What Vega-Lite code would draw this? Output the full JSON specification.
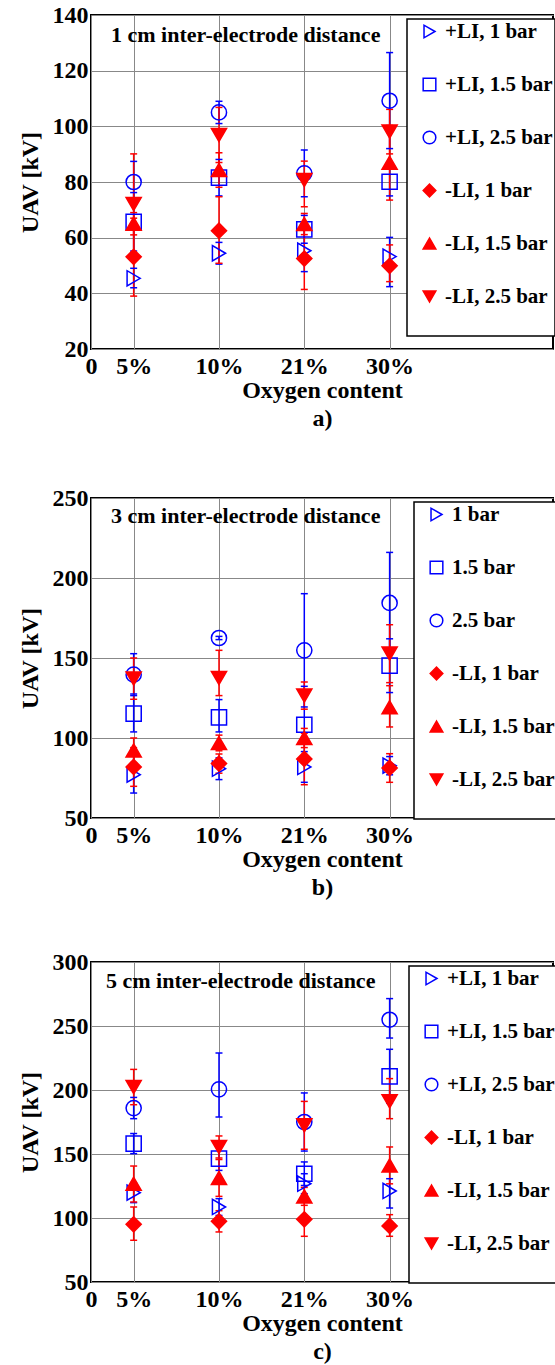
{
  "$schema": "https://vega.github.io/schema/vega-lite/v6.json",
  "padding": {"left": 17, "top": 2, "right": 0, "bottom": 0},
  "background": "white",
  "spacing": 54,
  "config": {
    "font": "Liberation Serif",
    "view": {"stroke": "black", "strokeWidth": 2},
    "axis": {
      "labelFont": "Liberation Serif", "labelFontSize": 24, "labelFontWeight": "bold", "labelColor": "black",
      "titleFont": "Liberation Serif", "titleFontSize": 24, "titleFontWeight": "bold", "titleColor": "black",
      "grid": true, "gridColor": "#888888", "gridWidth": 1, "domain": false, "ticks": false
    },
    "legend": {
      "orient": "none", "direction": "vertical", "strokeColor": "black", "fillColor": "white", "strokeWidth": 1.5,
      "padding": 2, "rowPadding": 31, "labelFont": "Liberation Serif", "labelFontSize": 21, "labelFontWeight": "bold",
      "labelColor": "black", "labelLimit": 400, "symbolSize": 160, "symbolStrokeWidth": 1.5, "symbolOffset": 10,
      "labelOffset": 5, "titleOrient": "bottom", "titleFontSize": 20, "titlePadding": 7
    }
  },
  "data": {"values": [
    {"p":"a","x":1,"s":"+LI, 1 bar","g":"+","v":45.4,"lo":42,"hi":49},
    {"p":"a","x":1,"s":"+LI, 1.5 bar","g":"+","v":65.7,"lo":55.2,"hi":76.2},
    {"p":"a","x":1,"s":"+LI, 2.5 bar","g":"+","v":80,"lo":72.6,"hi":87.4},
    {"p":"a","x":3,"s":"+LI, 1 bar","g":"+","v":54.4,"lo":50.5,"hi":58.3},
    {"p":"a","x":3,"s":"+LI, 1.5 bar","g":"+","v":81.6,"lo":75,"hi":88.1},
    {"p":"a","x":3,"s":"+LI, 2.5 bar","g":"+","v":105,"lo":101,"hi":109},
    {"p":"a","x":5,"s":"+LI, 1 bar","g":"+","v":55.3,"lo":47.8,"hi":62.8},
    {"p":"a","x":5,"s":"+LI, 1.5 bar","g":"+","v":63,"lo":58,"hi":68},
    {"p":"a","x":5,"s":"+LI, 2.5 bar","g":"+","v":83.1,"lo":74.7,"hi":91.5},
    {"p":"a","x":7,"s":"+LI, 1 bar","g":"+","v":53.2,"lo":42.4,"hi":60.1},
    {"p":"a","x":7,"s":"+LI, 1.5 bar","g":"+","v":80.1,"lo":75,"hi":85.2},
    {"p":"a","x":7,"s":"+LI, 2.5 bar","g":"+","v":109.2,"lo":92,"hi":126.5},
    {"p":"a","x":1,"s":"-LI, 1 bar","g":"-","v":53.1,"lo":39,"hi":67},
    {"p":"a","x":1,"s":"-LI, 1.5 bar","g":"-","v":65,"lo":61,"hi":69},
    {"p":"a","x":1,"s":"-LI, 2.5 bar","g":"-","v":72.1,"lo":54,"hi":90.1},
    {"p":"a","x":3,"s":"-LI, 1 bar","g":"-","v":62.5,"lo":50.8,"hi":74.7},
    {"p":"a","x":3,"s":"-LI, 1.5 bar","g":"-","v":84.3,"lo":78.1,"hi":90.5},
    {"p":"a","x":3,"s":"-LI, 2.5 bar","g":"-","v":96.9,"lo":87,"hi":106.8},
    {"p":"a","x":5,"s":"-LI, 1 bar","g":"-","v":52.5,"lo":41.4,"hi":63.6},
    {"p":"a","x":5,"s":"-LI, 1.5 bar","g":"-","v":64.9,"lo":61.1,"hi":68.7},
    {"p":"a","x":5,"s":"-LI, 2.5 bar","g":"-","v":80.7,"lo":71.1,"hi":87.5},
    {"p":"a","x":7,"s":"-LI, 1 bar","g":"-","v":49.9,"lo":44.2,"hi":57.4},
    {"p":"a","x":7,"s":"-LI, 1.5 bar","g":"-","v":86.9,"lo":73.5,"hi":100.3},
    {"p":"a","x":7,"s":"-LI, 2.5 bar","g":"-","v":98.1,"lo":90.1,"hi":106.1},

    {"p":"b","x":1,"s":"1 bar","g":"+","v":77.1,"lo":65.6,"hi":88.6},
    {"p":"b","x":1,"s":"1.5 bar","g":"+","v":115.2,"lo":103.8,"hi":127.5},
    {"p":"b","x":1,"s":"2.5 bar","g":"+","v":139.6,"lo":126.5,"hi":152.7},
    {"p":"b","x":3,"s":"1 bar","g":"+","v":80.8,"lo":74,"hi":87.6},
    {"p":"b","x":3,"s":"1.5 bar","g":"+","v":112.9,"lo":103.8,"hi":124},
    {"p":"b","x":3,"s":"2.5 bar","g":"+","v":162.5,"lo":161.5,"hi":163.5},
    {"p":"b","x":5,"s":"1 bar","g":"+","v":81.9,"lo":72.3,"hi":91.5},
    {"p":"b","x":5,"s":"1.5 bar","g":"+","v":108.3,"lo":84.3,"hi":132.3},
    {"p":"b","x":5,"s":"2.5 bar","g":"+","v":154.8,"lo":119.4,"hi":190.2},
    {"p":"b","x":7,"s":"1 bar","g":"+","v":82.7,"lo":77,"hi":88.4},
    {"p":"b","x":7,"s":"1.5 bar","g":"+","v":145.2,"lo":128.4,"hi":162},
    {"p":"b","x":7,"s":"2.5 bar","g":"+","v":184.4,"lo":152.8,"hi":216},
    {"p":"b","x":1,"s":"-LI, 1 bar","g":"-","v":81.9,"lo":69.8,"hi":94},
    {"p":"b","x":1,"s":"-LI, 1.5 bar","g":"-","v":92.3,"lo":84.6,"hi":100},
    {"p":"b","x":1,"s":"-LI, 2.5 bar","g":"-","v":137.1,"lo":124.2,"hi":150},
    {"p":"b","x":3,"s":"-LI, 1 bar","g":"-","v":84,"lo":78,"hi":90},
    {"p":"b","x":3,"s":"-LI, 1.5 bar","g":"-","v":96.9,"lo":92,"hi":101.8},
    {"p":"b","x":3,"s":"-LI, 2.5 bar","g":"-","v":137.5,"lo":126.5,"hi":154.8},
    {"p":"b","x":5,"s":"-LI, 1 bar","g":"-","v":86.9,"lo":70.8,"hi":103},
    {"p":"b","x":5,"s":"-LI, 1.5 bar","g":"-","v":100,"lo":94,"hi":106},
    {"p":"b","x":5,"s":"-LI, 2.5 bar","g":"-","v":126.5,"lo":118,"hi":135},
    {"p":"b","x":7,"s":"-LI, 1 bar","g":"-","v":81.3,"lo":72.3,"hi":90.2},
    {"p":"b","x":7,"s":"-LI, 1.5 bar","g":"-","v":119.2,"lo":106.9,"hi":132.7},
    {"p":"b","x":7,"s":"-LI, 2.5 bar","g":"-","v":152.7,"lo":134.6,"hi":170.8},

    {"p":"c","x":1,"s":"+LI, 1 bar","g":"+","v":119.8,"lo":112,"hi":127.6},
    {"p":"c","x":1,"s":"+LI, 1.5 bar","g":"+","v":158.1,"lo":150.3,"hi":166},
    {"p":"c","x":1,"s":"+LI, 2.5 bar","g":"+","v":185.9,"lo":177.6,"hi":194.2},
    {"p":"c","x":3,"s":"+LI, 1 bar","g":"+","v":108.6,"lo":102,"hi":115.1},
    {"p":"c","x":3,"s":"+LI, 1.5 bar","g":"+","v":146.4,"lo":137.2,"hi":155.6},
    {"p":"c","x":3,"s":"+LI, 2.5 bar","g":"+","v":200.5,"lo":178.9,"hi":228.9},
    {"p":"c","x":5,"s":"+LI, 1 bar","g":"+","v":126.8,"lo":119,"hi":134.6},
    {"p":"c","x":5,"s":"+LI, 1.5 bar","g":"+","v":134.6,"lo":125.4,"hi":143.8},
    {"p":"c","x":5,"s":"+LI, 2.5 bar","g":"+","v":175,"lo":152.3,"hi":197.7},
    {"p":"c","x":7,"s":"+LI, 1 bar","g":"+","v":121.1,"lo":107.8,"hi":130.7},
    {"p":"c","x":7,"s":"+LI, 1.5 bar","g":"+","v":210.7,"lo":189.6,"hi":231.8},
    {"p":"c","x":7,"s":"+LI, 2.5 bar","g":"+","v":254.9,"lo":240.6,"hi":271.4},
    {"p":"c","x":1,"s":"-LI, 1 bar","g":"-","v":95.1,"lo":82.6,"hi":108.6},
    {"p":"c","x":1,"s":"-LI, 1.5 bar","g":"-","v":126.8,"lo":112.5,"hi":140.6},
    {"p":"c","x":1,"s":"-LI, 2.5 bar","g":"-","v":202.3,"lo":188.5,"hi":216.1},
    {"p":"c","x":3,"s":"-LI, 1 bar","g":"-","v":97.4,"lo":89.1,"hi":105.7},
    {"p":"c","x":3,"s":"-LI, 1.5 bar","g":"-","v":131.3,"lo":116.9,"hi":145.7},
    {"p":"c","x":3,"s":"-LI, 2.5 bar","g":"-","v":155.5,"lo":146.9,"hi":164.1},
    {"p":"c","x":5,"s":"-LI, 1 bar","g":"-","v":99,"lo":85.7,"hi":112.3},
    {"p":"c","x":5,"s":"-LI, 1.5 bar","g":"-","v":116.9,"lo":109.9,"hi":123.9},
    {"p":"c","x":5,"s":"-LI, 2.5 bar","g":"-","v":172.4,"lo":153.7,"hi":191.1},
    {"p":"c","x":7,"s":"-LI, 1 bar","g":"-","v":93.8,"lo":85.7,"hi":102.6},
    {"p":"c","x":7,"s":"-LI, 1.5 bar","g":"-","v":141.1,"lo":126.7,"hi":155.5},
    {"p":"c","x":7,"s":"-LI, 2.5 bar","g":"-","v":191.1,"lo":177.6,"hi":208.9}
  ]},
  "resolve": {
    "scale": {"shape": "independent", "stroke": "independent", "fill": "independent", "color": "independent", "y": "independent"},
    "legend": {"shape": "independent", "stroke": "independent", "fill": "independent"}
  },
  "vconcat": [
    {
      "transform": [{"filter": "datum.p === 'a'"}],
      "width": 462, "height": 334,
      "title": {"text": "1 cm inter-electrode distance", "anchor": "start", "frame": "group", "baseline": "alphabetic", "offset": -61, "dx": 20, "font": "Liberation Serif", "fontSize": 22, "fontWeight": "bold", "color": "black"},
      "encoding": {
        "x": {"field": "x", "type": "quantitative", "scale": {"domain": [0, 10.83], "nice": false, "zero": false},
          "axis": {"values": [0, 1, 3, 5, 7], "labelExpr": "datum.value == 0 ? '0' : datum.value == 1 ? '5%' : datum.value == 3 ? '10%' : datum.value == 5 ? '21%' : '30%'", "labelFlush": false, "labelPadding": 5, "title": ["Oxygen content", "a)"], "titleLineHeight": 28, "titlePadding": 0}},
        "color": {"field": "g", "type": "nominal", "scale": {"domain": ["+", "-"], "range": ["#0000ff", "#ff0000"]}, "legend": null}
      },
      "layer": [
        {"mark": {"type": "rule", "strokeWidth": 1.5},
         "encoding": {"y": {"field": "lo", "type": "quantitative", "scale": {"domain": [20, 140], "nice": false, "zero": false},
             "axis": {"values": [20, 40, 60, 80, 100, 120, 140], "title": "UAV [kV]", "labelPadding": 3, "titlePadding": 10}}, "y2": {"field": "hi"}}},
        {"mark": {"type": "tick", "orient": "horizontal", "size": 7, "thickness": 1.5, "opacity": 1},
         "encoding": {"y": {"field": "lo", "type": "quantitative"}}},
        {"mark": {"type": "tick", "orient": "horizontal", "size": 7, "thickness": 1.5, "opacity": 1},
         "encoding": {"y": {"field": "hi", "type": "quantitative"}}},
        {"mark": {"type": "point", "size": 230, "strokeWidth": 1.5, "opacity": 1},
         "encoding": {
           "y": {"field": "v", "type": "quantitative"},
           "color": null,
           "shape": {"field": "s", "type": "nominal", "scale": {"domain": ["+LI, 1 bar", "+LI, 1.5 bar", "+LI, 2.5 bar", "-LI, 1 bar", "-LI, 1.5 bar", "-LI, 2.5 bar"], "range": ["triangle-right", "square", "circle", "diamond", "triangle-up", "triangle-down"]},
             "legend": {"title": "\u00a0", "legendX": 316, "legendY": 4}},
           "stroke": {"field": "s", "type": "nominal", "scale": {"domain": ["+LI, 1 bar", "+LI, 1.5 bar", "+LI, 2.5 bar", "-LI, 1 bar", "-LI, 1.5 bar", "-LI, 2.5 bar"], "range": ["#0000ff", "#0000ff", "#0000ff", "#ff0000", "#ff0000", "#ff0000"]}},
           "fill": {"field": "s", "type": "nominal", "scale": {"domain": ["+LI, 1 bar", "+LI, 1.5 bar", "+LI, 2.5 bar", "-LI, 1 bar", "-LI, 1.5 bar", "-LI, 2.5 bar"], "range": ["transparent", "transparent", "transparent", "#ff0000", "#ff0000", "#ff0000"]}}
         }}
      ]
    },
    {
      "spacing": 49,
      "resolve": {
        "scale": {"shape": "independent", "stroke": "independent", "fill": "independent", "color": "independent", "y": "independent"},
        "legend": {"shape": "independent", "stroke": "independent", "fill": "independent"}
      },
      "vconcat": [
        {
          "transform": [{"filter": "datum.p === 'b'"}],
          "width": 462, "height": 320,
          "title": {"text": "3 cm inter-electrode distance", "anchor": "start", "frame": "group", "baseline": "alphabetic", "offset": -59, "dx": 20, "font": "Liberation Serif", "fontSize": 22, "fontWeight": "bold", "color": "black"},
          "encoding": {
            "x": {"field": "x", "type": "quantitative", "scale": {"domain": [0, 10.83], "nice": false, "zero": false},
              "axis": {"values": [0, 1, 3, 5, 7], "labelExpr": "datum.value == 0 ? '0' : datum.value == 1 ? '5%' : datum.value == 3 ? '10%' : datum.value == 5 ? '21%' : '30%'", "labelFlush": false, "labelPadding": 5, "title": ["Oxygen content", "b)"], "titleLineHeight": 28, "titlePadding": 0}},
            "color": {"field": "g", "type": "nominal", "scale": {"domain": ["+", "-"], "range": ["#0000ff", "#ff0000"]}, "legend": null}
          },
          "layer": [
            {"mark": {"type": "rule", "strokeWidth": 1.5},
             "encoding": {"y": {"field": "lo", "type": "quantitative", "scale": {"domain": [50, 250], "nice": false, "zero": false},
                 "axis": {"values": [50, 100, 150, 200, 250], "title": "UAV [kV]", "labelPadding": 3, "titlePadding": 10}}, "y2": {"field": "hi"}}},
            {"mark": {"type": "tick", "orient": "horizontal", "size": 7, "thickness": 1.5, "opacity": 1},
             "encoding": {"y": {"field": "lo", "type": "quantitative"}}},
            {"mark": {"type": "tick", "orient": "horizontal", "size": 7, "thickness": 1.5, "opacity": 1},
             "encoding": {"y": {"field": "hi", "type": "quantitative"}}},
            {"mark": {"type": "point", "size": 230, "strokeWidth": 1.5, "opacity": 1},
             "encoding": {
               "y": {"field": "v", "type": "quantitative"},
               "color": null,
               "shape": {"field": "s", "type": "nominal", "scale": {"domain": ["1 bar", "1.5 bar", "2.5 bar", "-LI, 1 bar", "-LI, 1.5 bar", "-LI, 2.5 bar"], "range": ["triangle-right", "square", "circle", "diamond", "triangle-up", "triangle-down"]},
                 "legend": {"title": "\u00a0", "legendX": 323, "legendY": 4}},
               "stroke": {"field": "s", "type": "nominal", "scale": {"domain": ["1 bar", "1.5 bar", "2.5 bar", "-LI, 1 bar", "-LI, 1.5 bar", "-LI, 2.5 bar"], "range": ["#0000ff", "#0000ff", "#0000ff", "#ff0000", "#ff0000", "#ff0000"]}},
               "fill": {"field": "s", "type": "nominal", "scale": {"domain": ["1 bar", "1.5 bar", "2.5 bar", "-LI, 1 bar", "-LI, 1.5 bar", "-LI, 2.5 bar"], "range": ["transparent", "transparent", "transparent", "#ff0000", "#ff0000", "#ff0000"]}}
             }}
          ]
        },
        {
          "transform": [{"filter": "datum.p === 'c'"}],
          "width": 462, "height": 320,
          "title": {"text": "5 cm inter-electrode distance", "anchor": "start", "frame": "group", "baseline": "alphabetic", "offset": -60, "dx": 15, "font": "Liberation Serif", "fontSize": 22, "fontWeight": "bold", "color": "black"},
          "encoding": {
            "x": {"field": "x", "type": "quantitative", "scale": {"domain": [0, 10.83], "nice": false, "zero": false},
              "axis": {"values": [0, 1, 3, 5, 7], "labelExpr": "datum.value == 0 ? '0' : datum.value == 1 ? '5%' : datum.value == 3 ? '10%' : datum.value == 5 ? '21%' : '30%'", "labelFlush": false, "labelPadding": 5, "title": ["Oxygen content", "c)"], "titleLineHeight": 28, "titlePadding": 0}},
            "color": {"field": "g", "type": "nominal", "scale": {"domain": ["+", "-"], "range": ["#0000ff", "#ff0000"]}, "legend": null}
          },
          "layer": [
            {"mark": {"type": "rule", "strokeWidth": 1.5},
             "encoding": {"y": {"field": "lo", "type": "quantitative", "scale": {"domain": [50, 300], "nice": false, "zero": false},
                 "axis": {"values": [50, 100, 150, 200, 250, 300], "title": "UAV [kV]", "labelPadding": 3, "titlePadding": 10}}, "y2": {"field": "hi"}}},
            {"mark": {"type": "tick", "orient": "horizontal", "size": 7, "thickness": 1.5, "opacity": 1},
             "encoding": {"y": {"field": "lo", "type": "quantitative"}}},
            {"mark": {"type": "tick", "orient": "horizontal", "size": 7, "thickness": 1.5, "opacity": 1},
             "encoding": {"y": {"field": "hi", "type": "quantitative"}}},
            {"mark": {"type": "point", "size": 230, "strokeWidth": 1.5, "opacity": 1},
             "encoding": {
               "y": {"field": "v", "type": "quantitative"},
               "color": null,
               "shape": {"field": "s", "type": "nominal", "scale": {"domain": ["+LI, 1 bar", "+LI, 1.5 bar", "+LI, 2.5 bar", "-LI, 1 bar", "-LI, 1.5 bar", "-LI, 2.5 bar"], "range": ["triangle-right", "square", "circle", "diamond", "triangle-up", "triangle-down"]},
                 "legend": {"title": "\u00a0", "legendX": 318, "legendY": 4}},
               "stroke": {"field": "s", "type": "nominal", "scale": {"domain": ["+LI, 1 bar", "+LI, 1.5 bar", "+LI, 2.5 bar", "-LI, 1 bar", "-LI, 1.5 bar", "-LI, 2.5 bar"], "range": ["#0000ff", "#0000ff", "#0000ff", "#ff0000", "#ff0000", "#ff0000"]}},
               "fill": {"field": "s", "type": "nominal", "scale": {"domain": ["+LI, 1 bar", "+LI, 1.5 bar", "+LI, 2.5 bar", "-LI, 1 bar", "-LI, 1.5 bar", "-LI, 2.5 bar"], "range": ["transparent", "transparent", "transparent", "#ff0000", "#ff0000", "#ff0000"]}}
             }}
          ]
        }
      ]
    }
  ]
}
